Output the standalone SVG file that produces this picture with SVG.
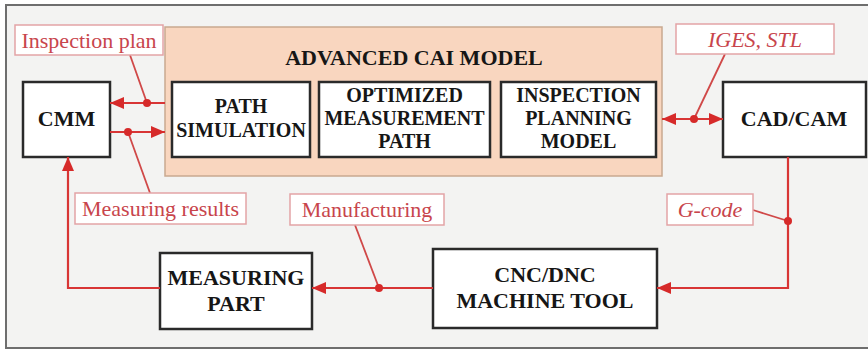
<svg xmlns="http://www.w3.org/2000/svg" width="868" height="350" viewBox="0 0 868 350">
<style>
.box{fill:#ffffff;stroke:#2a2a2a;stroke-width:2.5}
.bt{font-family:"Liberation Serif","Times New Roman",serif;font-weight:bold;fill:#161616;text-anchor:middle}
.lbl{fill:#ffffff;stroke:#e3a4a6;stroke-width:1.5}
.lt{font-family:"Liberation Serif","Times New Roman",serif;font-size:22px;fill:#c8454c;text-anchor:middle}
.it{font-style:italic}
.ln{fill:none;stroke:#d83535;stroke-width:2.2}
.ld{fill:none;stroke:#d04848;stroke-width:1.8}
.dot{fill:#d62a2a}
</style>
<defs>
<marker id="ah" viewBox="0 0 14 12" refX="14" refY="6" markerWidth="14" markerHeight="12" markerUnits="userSpaceOnUse" orient="auto-start-reverse">
<path d="M0,0 L14,6 L0,12 Z" fill="#d62a2a"/>
</marker>
</defs>
<rect x="0" y="0" width="868" height="350" fill="#ffffff"/>
<rect x="6" y="5" width="900" height="343" fill="#f3f3f2" stroke="#6e6e6e" stroke-width="2"/>

<g id="cai-model">
<rect x="165" y="27" width="497" height="149" fill="#f9d6bf" stroke="#c9a990" stroke-width="1.5"/>
<text class="bt" x="414" y="65" font-size="22">ADVANCED CAI MODEL</text>
</g>

<g id="path-simulation">
<rect class="box" x="172" y="82" width="138" height="75"/>
<text class="bt" x="241" y="113" font-size="20">PATH</text>
<text class="bt" x="241" y="137" font-size="20">SIMULATION</text>
</g>

<g id="optimized-path">
<rect class="box" x="319" y="82" width="171" height="75"/>
<text class="bt" x="404.5" y="102" font-size="20">OPTIMIZED</text>
<text class="bt" x="404.5" y="125" font-size="20">MEASUREMENT</text>
<text class="bt" x="404.5" y="148" font-size="20">PATH</text>
</g>

<g id="inspection-planning">
<rect class="box" x="501" y="82" width="155" height="75"/>
<text class="bt" x="578.5" y="102" font-size="20">INSPECTION</text>
<text class="bt" x="578.5" y="125" font-size="20">PLANNING</text>
<text class="bt" x="578.5" y="148" font-size="20">MODEL</text>
</g>

<g id="cmm">
<rect class="box" x="23" y="82" width="87" height="75"/>
<text class="bt" x="66.5" y="126" font-size="22">CMM</text>
</g>

<g id="cad-cam">
<rect class="box" x="723" y="82" width="143" height="75"/>
<text class="bt" x="794" y="126" font-size="22">CAD/CAM</text>
</g>

<g id="measuring-part">
<rect class="box" x="160" y="253" width="152" height="76"/>
<text class="bt" x="236" y="285" font-size="22">MEASURING</text>
<text class="bt" x="236" y="311" font-size="22">PART</text>
</g>

<g id="cnc">
<rect class="box" x="433" y="249" width="224" height="79"/>
<text class="bt" x="545" y="282" font-size="22">CNC/DNC</text>
<text class="bt" x="545" y="308" font-size="22">MACHINE TOOL</text>
</g>

<g id="connectors">
<line class="ln" x1="165" y1="103" x2="110" y2="103" marker-end="url(#ah)"/>
<line class="ln" x1="110" y1="132" x2="165" y2="132" marker-end="url(#ah)"/>
<line class="ln" x1="662" y1="119" x2="723" y2="119" marker-start="url(#ah)" marker-end="url(#ah)"/>
<polyline class="ln" points="788,157 788,288 657,288" marker-end="url(#ah)"/>
<line class="ln" x1="433" y1="288" x2="312" y2="288" marker-end="url(#ah)"/>
<polyline class="ln" points="160,288 68,288 68,157" marker-end="url(#ah)"/>
<line class="ld" x1="130" y1="55" x2="147" y2="103"/>
<line class="ld" x1="128" y1="132" x2="150" y2="193"/>
<line class="ld" x1="355" y1="225" x2="379" y2="288"/>
<line class="ld" x1="753" y1="210" x2="788" y2="221"/>
<line class="ld" x1="725" y1="54" x2="694" y2="119"/>
<circle class="dot" cx="147" cy="103" r="4"/>
<circle class="dot" cx="128" cy="132" r="4"/>
<circle class="dot" cx="379" cy="288" r="4"/>
<circle class="dot" cx="788" cy="221" r="4"/>
<circle class="dot" cx="694" cy="119" r="4"/>
</g>

<g id="label-inspection-plan">
<rect class="lbl" x="15" y="25" width="148" height="30"/>
<text class="lt" x="89" y="48">Inspection plan</text>
</g>
<g id="label-iges">
<rect class="lbl" x="676" y="24" width="158" height="30"/>
<text class="lt it" x="755" y="47">IGES, STL</text>
</g>
<g id="label-measuring-results">
<rect class="lbl" x="75" y="193" width="171" height="31"/>
<text class="lt" x="160.5" y="216">Measuring results</text>
</g>
<g id="label-manufacturing">
<rect class="lbl" x="290" y="194" width="154" height="31"/>
<text class="lt" x="367" y="217">Manufacturing</text>
</g>
<g id="label-gcode">
<rect class="lbl" x="667" y="194" width="86" height="31"/>
<text class="lt it" x="710" y="217">G-code</text>
</g>
</svg>
